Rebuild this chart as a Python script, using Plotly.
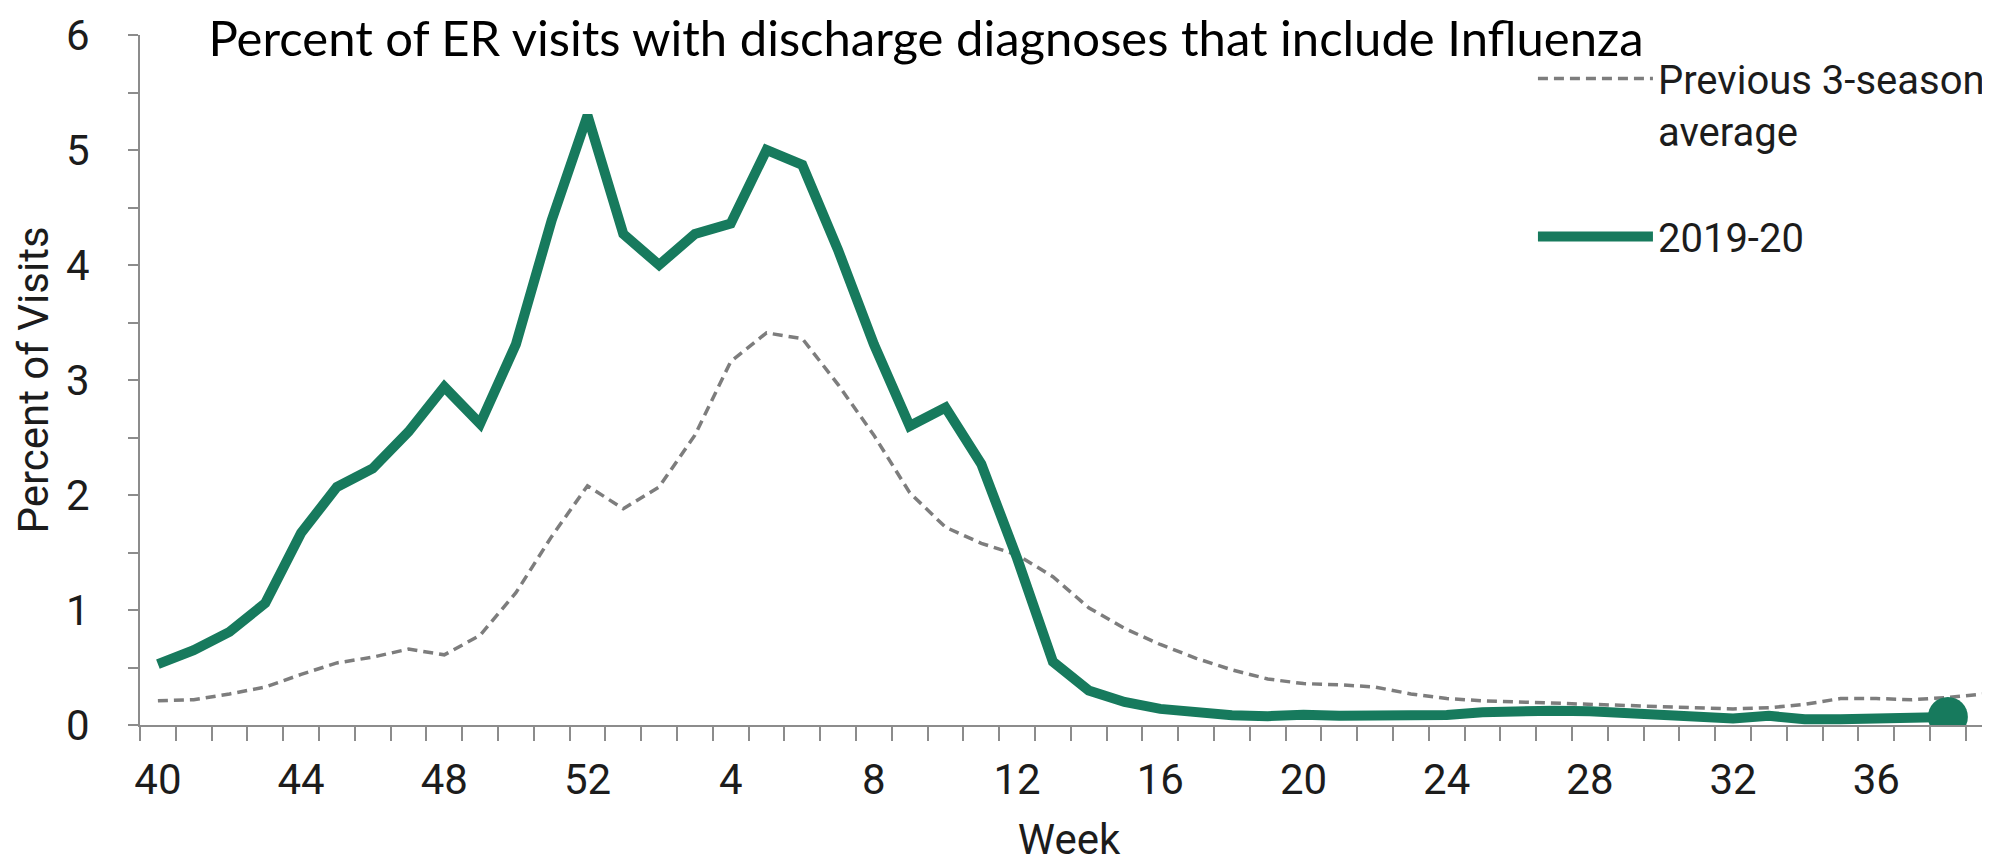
import plotly.graph_objects as go

week_labels = [str(w) for w in list(range(40, 53)) + list(range(1, 40))]

season_2019_20 = [0.53, 0.65, 0.81, 1.06, 1.67, 2.07, 2.23, 2.55, 2.94, 2.62,
                  3.31, 4.39, 5.30, 4.27, 4.00, 4.27, 4.36, 5.00, 4.87, 4.13,
                  3.31, 2.60, 2.76, 2.27, 1.45, 0.55, 0.30, 0.20, 0.14, 0.11,
                  0.085, 0.077, 0.09, 0.08, 0.08, 0.08, 0.087, 0.11, 0.125, 0.125,
                  0.12, 0.10, 0.09, 0.075, 0.056, 0.08, 0.05, 0.05, 0.06, 0.06, 0.07]

prev_3season_avg = [0.21, 0.22, 0.27, 0.33, 0.44, 0.54, 0.59, 0.66, 0.61, 0.78,
                    1.15, 1.64, 2.08, 1.88, 2.07, 2.52, 3.16, 3.41, 3.36, 2.96,
                    2.52, 2.02, 1.72, 1.58, 1.48, 1.29, 1.02, 0.84, 0.70, 0.58,
                    0.48, 0.40, 0.36, 0.35, 0.33, 0.27, 0.23, 0.21, 0.20, 0.19,
                    0.18, 0.17, 0.16, 0.15, 0.14, 0.15, 0.18, 0.23, 0.23, 0.22, 0.24, 0.27]

label_weeks = ["40", "44", "48", "52", "4", "8", "12", "16", "20", "24", "28", "32", "36"]

GREEN = "#177a5d"
GREY = "#7d7d7d"
AXIS = "#8c8c8c"
TXT = "#1c1c1c"
FONT = "Roboto"

x_prev = list(range(len(prev_3season_avg)))
x_cur = list(range(len(season_2019_20)))

fig = go.Figure()
fig.add_trace(go.Scatter(
    x=x_prev, y=prev_3season_avg, mode="lines",
    name="Previous 3-season<br>average", legendgroup="a",
    line=dict(color=GREY, width=3.5, dash="10px,6px"),
))
fig.add_trace(go.Scatter(
    x=x_cur, y=season_2019_20, mode="lines",
    name="2019-20", legendgroup="b",
    line=dict(color=GREEN, width=10),
))
fig.add_trace(go.Scatter(
    x=[x_cur[-1]], y=[season_2019_20[-1]], mode="markers",
    showlegend=False, marker=dict(color=GREEN, size=40),
))

fig.update_layout(
    width=1990, height=867,
    margin=dict(l=132, r=0, t=27, b=150, autoexpand=False),
    paper_bgcolor="white", plot_bgcolor="white",
    font=dict(family=FONT, size=42, color=TXT),
    title=dict(
        text="Percent of ER visits with discharge diagnoses that include Influenza",
        font=dict(family="Lato", size=49, color="black"),
        x=918 / 1990, xref="container", xanchor="center",
        y=1 - 31 / 867, yref="container", yanchor="middle",
    ),
    showlegend=True,
    legend=dict(
        x=0.7497, xref="paper", xanchor="left",
        y=0.984, yref="paper", yanchor="top",
        font=dict(family=FONT, size=40, color=TXT),
        itemwidth=115, valign="top", traceorder="grouped",
        tracegroupgap=51, bgcolor="rgba(0,0,0,0)",
    ),
    xaxis=dict(
        range=[-0.5, 51.4], showgrid=False, zeroline=False, automargin=False,
        showline=True, linecolor=AXIS, linewidth=2,
        tickmode="array",
        tickvals=[week_labels.index(w) for w in label_weeks],
        ticktext=label_weeks,
        ticks="", ticklabelstandoff=17,
        tickfont=dict(family=FONT, size=42, color=TXT),
        minor=dict(tick0=-0.5, dtick=1, ticks="outside", ticklen=14,
                   tickwidth=2, tickcolor=AXIS, showgrid=False),
        title=dict(text="Week", font=dict(family=FONT, size=42, color=TXT), standoff=21),
    ),
    yaxis=dict(
        range=[0, 6], showgrid=False, zeroline=False, automargin=False,
        showline=True, linecolor=AXIS, linewidth=2,
        tickmode="array", tickvals=[0, 1, 2, 3, 4, 5, 6],
        ticks="outside", ticklen=10, tickwidth=2, tickcolor=AXIS,
        ticklabelstandoff=30,
        tickfont=dict(family=FONT, size=42, color=TXT),
        minor=dict(tick0=0, dtick=0.5, ticks="outside", ticklen=10,
                   tickwidth=2, tickcolor=AXIS, showgrid=False),
        title=dict(text="Percent of Visits", font=dict(family=FONT, size=42, color=TXT), standoff=4),
    ),
)

fig.write_html("out.html")
